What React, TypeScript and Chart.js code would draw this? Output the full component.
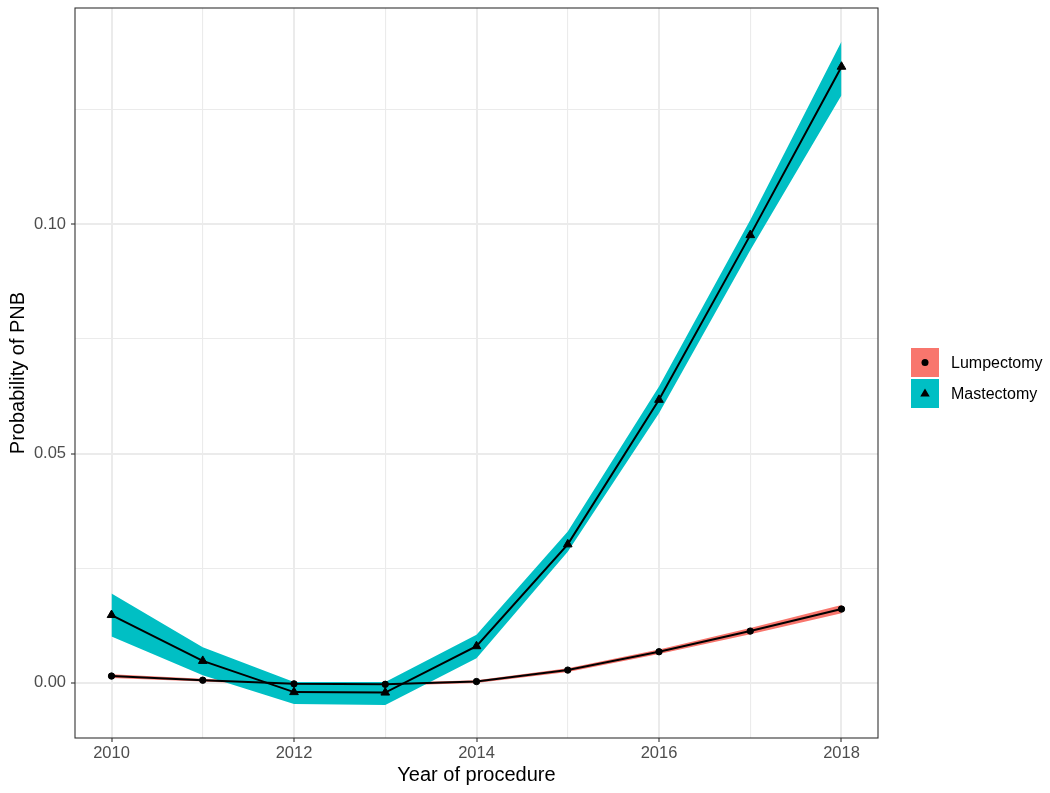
import React, { useEffect, useRef } from "react";
import { Chart, registerables } from "chart.js";

Chart.register(...registerables);

const years = [2010, 2011, 2012, 2013, 2014, 2015, 2016, 2017, 2018];

const lumpFit = [0.0015, 0.0006, -0.0002, -0.0003, 0.0003, 0.0028, 0.0068, 0.0113, 0.0161];
const lumpLower = [0.0011, 0.0003, -0.0005, -0.0006, 0.0000, 0.0024, 0.0063, 0.0106, 0.0152];
const lumpUpper = [0.0019, 0.0009, 0.0001, 0.0000, 0.0006, 0.0032, 0.0073, 0.0120, 0.0170];

const mastFit = [0.0148, 0.0048, -0.0020, -0.0021, 0.0080, 0.0302, 0.0617, 0.0976, 0.1343];
const mastLower = [0.0101, 0.0017, -0.0046, -0.0048, 0.0054, 0.0286, 0.0588, 0.0943, 0.1281];
const mastUpper = [0.0195, 0.0078, 0.0002, 0.0002, 0.0105, 0.0330, 0.0646, 0.1009, 0.1398];

const xTickValues = [2010, 2011, 2012, 2013, 2014, 2015, 2016, 2017, 2018];
const xMajor = [2010, 2012, 2014, 2016, 2018];
const yTickValues = [0, 0.025, 0.05, 0.075, 0.1, 0.125];
const yMajor = [0, 0.05, 0.1];

const seriesNames = ["Lumpectomy", "Mastectomy"];
const seriesColors = ["#F8766D", "#00BFC4"];

const xTitle = "Year of procedure";
const yTitle = "Probability of PNB";

const FONT = "'Liberation Sans', Arial, sans-serif";

const pts = (arr: number[]) => years.map((x, i) => ({ x, y: arr[i] }));
const isMajor = (list: number[], v: number) => list.some((m) => Math.abs(m - v) < 1e-9);

export default function App() {
  const ref = useRef<HTMLCanvasElement | null>(null);

  useEffect(() => {
    if (!ref.current) return;

    const framePlugin = {
      id: "frame",
      afterDraw(chart: any) {
        const { ctx, chartArea } = chart;
        ctx.save();
        ctx.strokeStyle = "#333333";
        ctx.lineWidth = 1.1;
        ctx.strokeRect(chartArea.left, chartArea.top, chartArea.right - chartArea.left, chartArea.bottom - chartArea.top);

        ctx.fillStyle = "#000000";
        ctx.font = `20px ${FONT}`;
        ctx.textAlign = "center";
        ctx.textBaseline = "middle";
        ctx.fillText(xTitle, (chartArea.left + chartArea.right) / 2, 775);
        ctx.save();
        ctx.translate(18, (chartArea.top + chartArea.bottom) / 2);
        ctx.rotate(-Math.PI / 2);
        ctx.fillText(yTitle, 0, 0);
        ctx.restore();

        // legend
        const keyX = 911;
        const keyW = 28;
        const keyH = 29;
        const keyTops = [348, 379];
        ctx.font = `16px ${FONT}`;
        ctx.textAlign = "left";
        seriesNames.forEach((name, i) => {
          const top = keyTops[i];
          ctx.fillStyle = seriesColors[i];
          ctx.fillRect(keyX, top, keyW, keyH);
          const cx = keyX + keyW / 2;
          const cy = top + keyH / 2;
          ctx.fillStyle = "#000000";
          ctx.beginPath();
          if (i === 0) {
            ctx.arc(cx, cy, 3.5, 0, Math.PI * 2);
          } else {
            const r = 5;
            ctx.moveTo(cx, cy - r);
            ctx.lineTo(cx + r * 0.95, cy + r * 0.6);
            ctx.lineTo(cx - r * 0.95, cy + r * 0.6);
            ctx.closePath();
          }
          ctx.fill();
          ctx.fillText(name, 951, cy + 1);
        });
        ctx.restore();
      },
    };

    const chart = new Chart(ref.current, {
      type: "line",
      data: {
        datasets: [
          {
            label: "mastLine",
            data: pts(mastFit),
            borderColor: "#000000",
            borderWidth: 2,
            pointStyle: "triangle",
            pointRadius: 5,
            pointBackgroundColor: "#000000",
            pointBorderColor: "#000000",
            pointBorderWidth: 1,
            fill: false,
            tension: 0,
            order: 0,
          },
          {
            label: "lumpLine",
            data: pts(lumpFit),
            borderColor: "#000000",
            borderWidth: 2,
            pointStyle: "circle",
            pointRadius: 3.2,
            pointBackgroundColor: "#000000",
            pointBorderColor: "#000000",
            pointBorderWidth: 1,
            fill: false,
            tension: 0,
            order: 1,
          },
          {
            label: "mastUpper",
            data: pts(mastUpper),
            borderWidth: 0,
            borderColor: "rgba(0,0,0,0)",
            pointRadius: 0,
            fill: false,
            tension: 0,
            order: 2,
          },
          {
            label: "mastLower",
            data: pts(mastLower),
            borderWidth: 0,
            borderColor: "rgba(0,0,0,0)",
            backgroundColor: seriesColors[1],
            pointRadius: 0,
            fill: "-1",
            tension: 0,
            order: 2,
          },
          {
            label: "lumpUpper",
            data: pts(lumpUpper),
            borderWidth: 0,
            borderColor: "rgba(0,0,0,0)",
            pointRadius: 0,
            fill: false,
            tension: 0,
            order: 3,
          },
          {
            label: "lumpLower",
            data: pts(lumpLower),
            borderWidth: 0,
            borderColor: "rgba(0,0,0,0)",
            backgroundColor: seriesColors[0],
            pointRadius: 0,
            fill: "-1",
            tension: 0,
            order: 3,
          },
        ],
      },
      options: {
        responsive: false,
        animation: false,
        devicePixelRatio: 1,
        layout: { padding: { left: 0, right: 172, top: 8, bottom: 0 } },
        plugins: {
          legend: { display: false },
          tooltip: { enabled: false },
          filler: { drawTime: "beforeDatasetsDraw" },
        },
        scales: {
          x: {
            type: "linear",
            min: 2009.6,
            max: 2018.4,
            afterBuildTicks: (scale: any) => {
              scale.ticks = xTickValues.map((v) => ({ value: v }));
            },
            afterFit: (scale: any) => {
              scale.height = 55;
              scale.paddingLeft = 0;
              scale.paddingRight = 0;
            },
            ticks: {
              autoSkip: false,
              maxRotation: 0,
              padding: 2,
              color: "#4D4D4D",
              font: { family: FONT, size: 16.5 },
              callback: (v: any) => (isMajor(xMajor, Number(v)) ? String(v) : ""),
            },
            grid: {
              color: "#EBEBEB",
              lineWidth: (ctx: any) => (ctx.tick && isMajor(xMajor, ctx.tick.value) ? 2 : 1.1),
              tickLength: 4,
              tickWidth: 1.1,
              tickColor: (ctx: any) => (ctx.tick && isMajor(xMajor, ctx.tick.value) ? "#333333" : "rgba(0,0,0,0)"),
            },
            border: { display: false },
          },
          y: {
            type: "linear",
            min: -0.012,
            max: 0.1471,
            afterBuildTicks: (scale: any) => {
              scale.ticks = yTickValues.map((v) => ({ value: v }));
            },
            afterFit: (scale: any) => {
              scale.width = 75;
              scale.paddingTop = 0;
              scale.paddingBottom = 0;
            },
            ticks: {
              autoSkip: false,
              padding: 5,
              color: "#4D4D4D",
              font: { family: FONT, size: 16.5 },
              callback: (v: any) => (isMajor(yMajor, Number(v)) ? Number(v).toFixed(2) : ""),
            },
            grid: {
              color: "#EBEBEB",
              lineWidth: (ctx: any) => (ctx.tick && isMajor(yMajor, ctx.tick.value) ? 2 : 1.1),
              tickLength: 4,
              tickWidth: 1.1,
              tickColor: (ctx: any) => (ctx.tick && isMajor(yMajor, ctx.tick.value) ? "#333333" : "rgba(0,0,0,0)"),
            },
            border: { display: false },
          },
        },
      },
      plugins: [framePlugin],
    } as any);

    return () => chart.destroy();
  }, []);

  return (
    <div style={{ position: "fixed", left: 0, top: 0, width: 1050, height: 793, background: "#ffffff" }}>
      <canvas ref={ref} width={1050} height={793} style={{ display: "block", width: 1050, height: 793 }} />
    </div>
  );
}
